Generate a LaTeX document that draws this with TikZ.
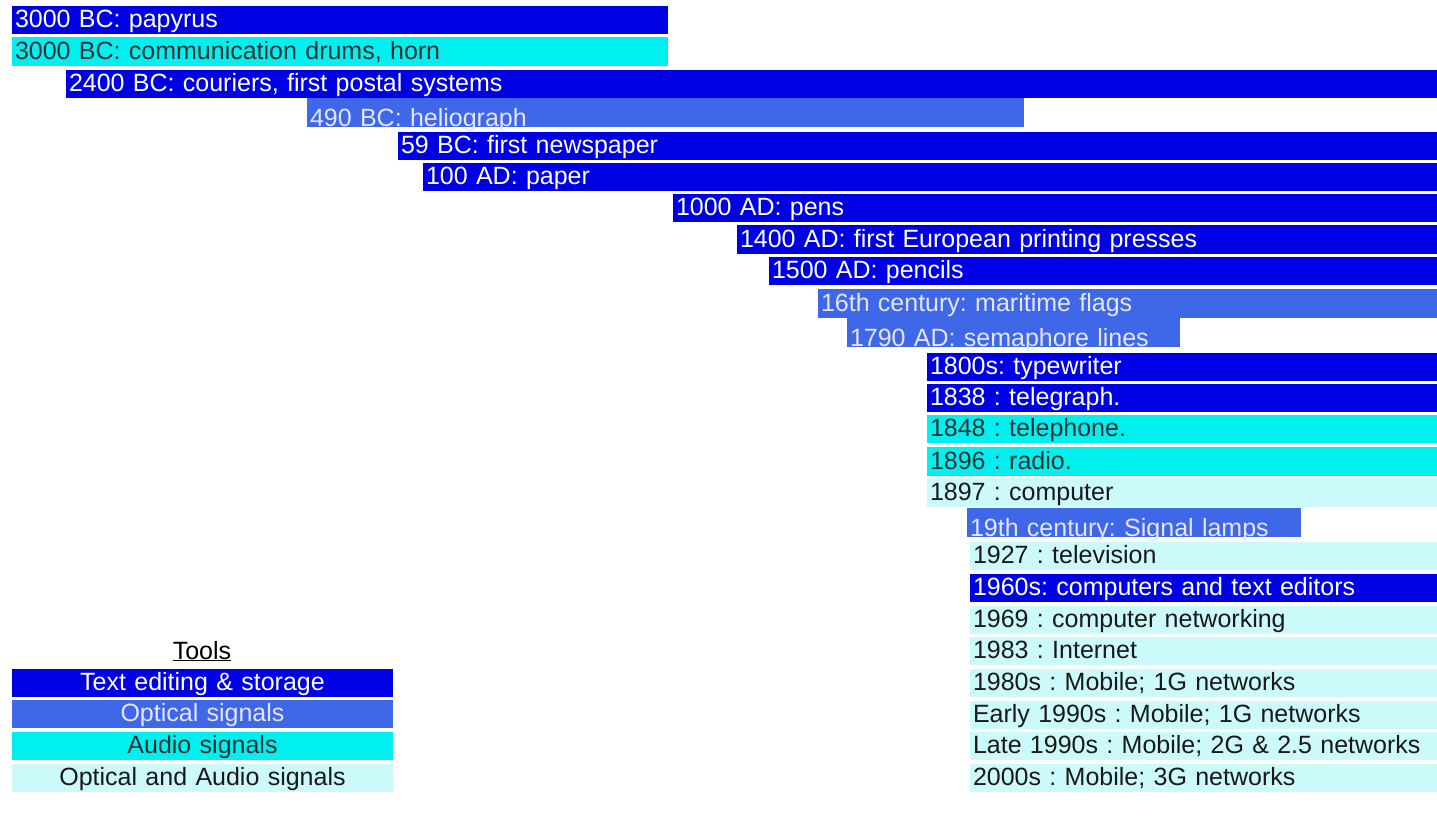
\documentclass[tikz,border=0pt]{standalone}
\usepackage{fontspec}
\setmainfont{Liberation Sans}
\usepackage{tikz}
\usetikzlibrary{positioning}
\frenchspacing

\definecolor{textblue}{RGB}{0,0,228}
\definecolor{opticblue}{RGB}{62,104,232}
\definecolor{audiocyan}{RGB}{0,240,240}
\definecolor{bothcyan}{RGB}{204,250,250}

\begin{document}
\begin{tikzpicture}[x=1pt, y=-1pt,
    font=\fontsize{25}{30}\selectfont,
    bar/.style={anchor=north west, outer sep=0pt, inner xsep=3pt, inner ysep=0pt,
      minimum height=28pt, text height=19pt, text depth=4pt, align=left},
    cut/.style={bar, minimum height=29pt, text height=27pt, text depth=0pt},
    textbar/.style={fill=textblue, text=white},
    opticbar/.style={fill=opticblue, text=white!90!blue},
    audiobar/.style={fill=audiocyan, text=black!92!cyan},
    bothbar/.style={fill=bothcyan, text=black!90},
    key/.style={bar, align=center, text width=375pt}]
  \useasboundingbox (0,0) rectangle (1437,819);
  \node[bar, textbar, text width=650pt] (papyrus) at (12,6) {3000 BC: papyrus};
  \node[bar, audiobar, text width=650pt, minimum height=29pt] (drums) at (12,37) {3000 BC: communication drums, horn};
  \node[bar, textbar, text width=1365pt] (couriers) at (66,70) {2400 BC: couriers, first postal systems};
  \node[cut, opticbar, text width=711pt] (heliograph) at (307,98) {490 BC: heliograph};
  \node[bar, textbar, text width=1033pt] (newspaper) at (398,132) {59 BC: first newspaper};
  \node[bar, textbar, text width=1008pt] (paper) at (423,163) {100 AD: paper};
  \node[bar, textbar, text width=758pt] (pens) at (673,194) {1000 AD: pens};
  \node[bar, textbar, text width=694pt, minimum height=29pt] (printing) at (737,225) {1400 AD: first European printing presses};
  \node[bar, textbar, text width=662pt] (pencils) at (769,257) {1500 AD: pencils};
  \node[bar, opticbar, text width=613pt, minimum height=29pt] (flags) at (818,289) {16th century: maritime flags};
  \node[cut, opticbar, text width=327pt] (semaphore) at (847,318) {1790 AD: semaphore lines};
  \node[bar, textbar, text width=504pt] (typewriter) at (927,353) {1800s: typewriter};
  \node[bar, textbar, text width=504pt] (telegraph) at (927,384) {1838 : telegraph.};
  \node[bar, audiobar, text width=504pt] (telephone) at (927,415) {1848 : telephone.};
  \node[bar, audiobar, text width=504pt, minimum height=29pt] (radio) at (927,447) {1896 : radio.};
  \node[bar, bothbar, text width=504pt, minimum height=29pt] (computer) at (927,478) {1897 : computer};
  \node[cut, opticbar, text width=328pt] (lamps) at (967,508) {19th century: Signal lamps};
  \node[bar, bothbar, text width=461pt] (television) at (970,542) {1927 : television};
  \node[bar, textbar, text width=461pt] (editors) at (970,574) {1960s: computers and text editors};
  \node[bar, bothbar, text width=461pt] (networking) at (970,606) {1969 : computer networking};
  \node[bar, bothbar, text width=461pt] (internet) at (970,637) {1983 : Internet};
  \node[bar, bothbar, text width=461pt] (mobileA) at (970,669) {1980s : Mobile; 1G networks};
  \node[bar, bothbar, text width=461pt] (mobileB) at (970,701) {Early 1990s : Mobile; 1G networks};
  \node[bar, bothbar, text width=461pt] (mobileC) at (970,732) {Late 1990s : Mobile; 2G \& 2.5 networks};
  \node[bar, bothbar, text width=461pt] (mobileD) at (970,764) {2000s : Mobile; 3G networks};
  \node[anchor=base, inner sep=0pt] (tools) at (202,659) {\underline{Tools}};
  \node[key, textbar] (keytext) at (12,669) {Text editing \& storage};
  \node[key, opticbar] (keyoptic) at (12,700) {Optical signals};
  \node[key, audiobar] (keyaudio) at (12,732) {Audio signals};
  \node[key, bothbar] (keyboth) at (12,764) {Optical and Audio signals};
\end{tikzpicture}
\end{document}
